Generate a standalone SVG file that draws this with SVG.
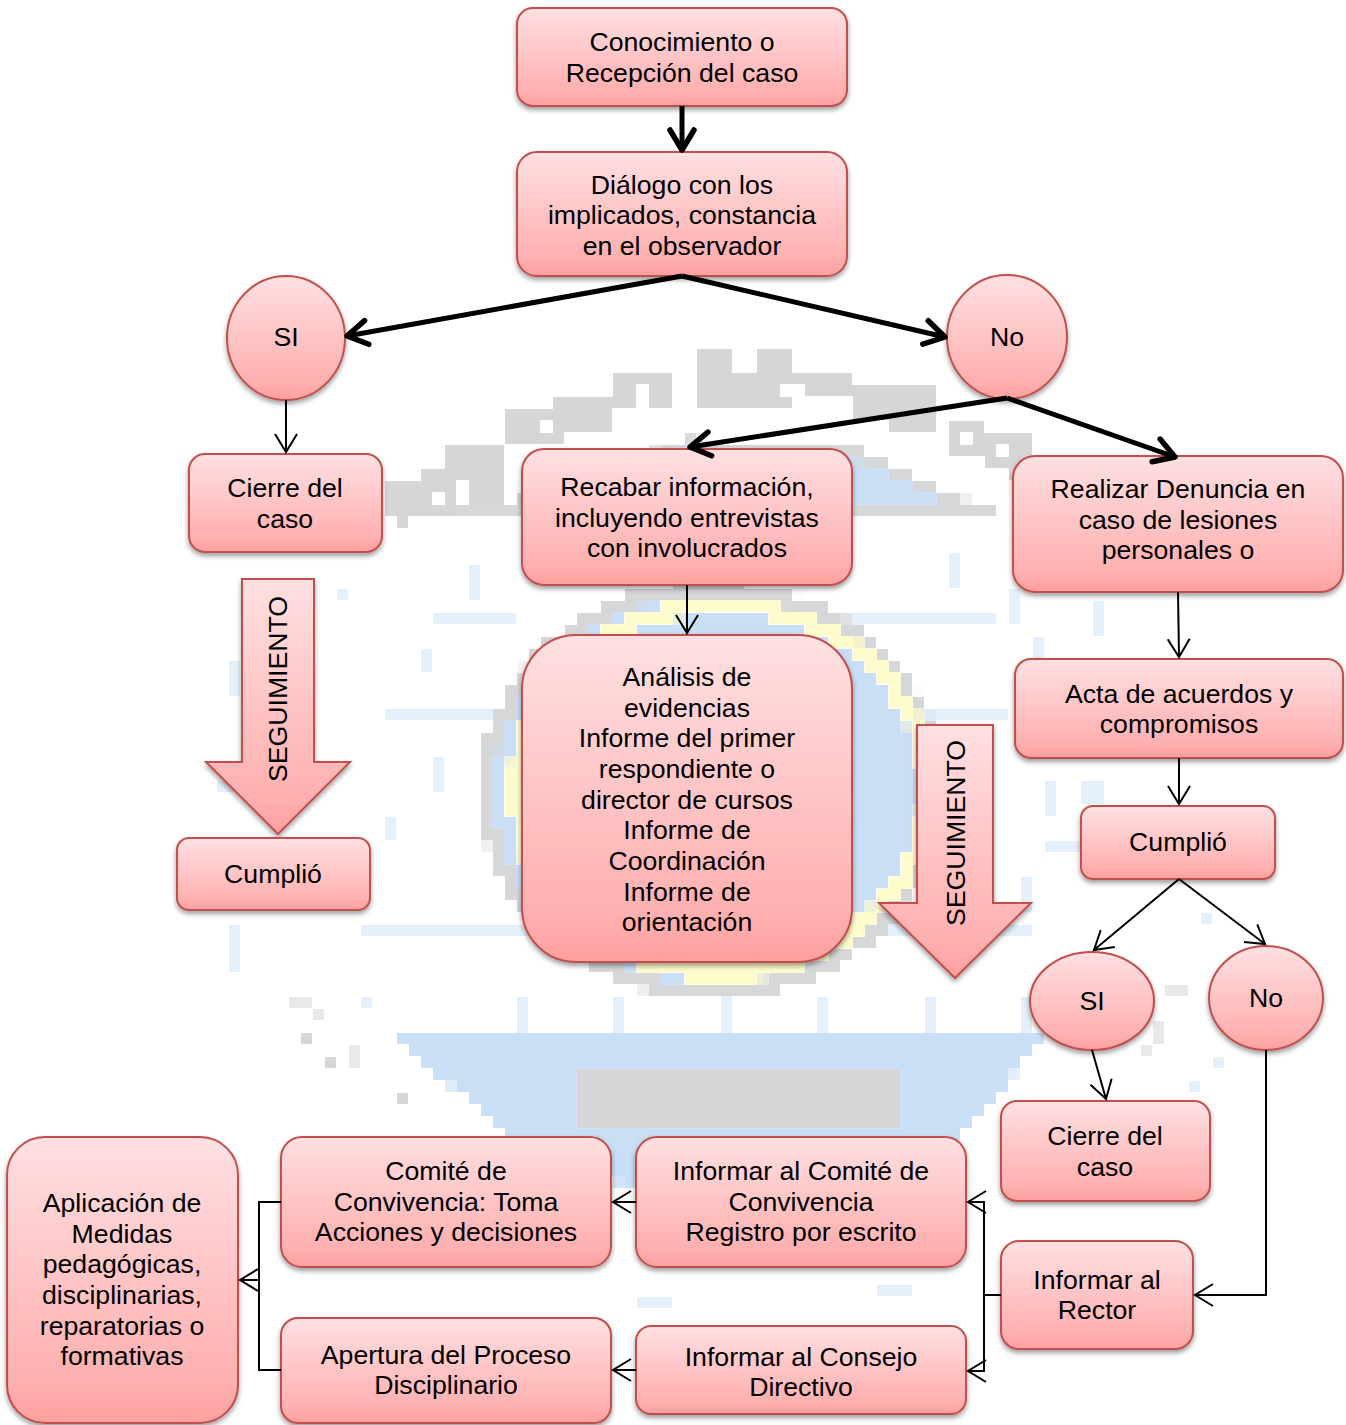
<svg xmlns="http://www.w3.org/2000/svg" width="1346" height="1425" viewBox="0 0 1346 1425">
<style>
.n{fill:url(#g);stroke:#c0504d;stroke-width:2;filter:url(#s)}
.t{font-family:"Liberation Sans",Arial,sans-serif;font-size:26.67px;fill:#000;text-anchor:middle}
.c1{fill:none;stroke:#000;stroke-width:2;marker-end:url(#h1)}
.c0{fill:none;stroke:#000;stroke-width:2}
.c5{fill:none;stroke:#000;stroke-width:5;marker-end:url(#h5)}
</style>
<defs>
<linearGradient id="g" x1="0" y1="0" x2="0" y2="1"><stop offset="0" stop-color="#ffe0e2"/><stop offset=".85" stop-color="#ffb0b0"/><stop offset="1" stop-color="#ff9f9f"/></linearGradient>
<filter id="s" x="-10%" y="-10%" width="120%" height="125%"><feDropShadow dx="0" dy="3" stdDeviation="2.5" flood-color="#000" flood-opacity=".38"/></filter>
<filter id="px" filterUnits="userSpaceOnUse" x="0" y="0" width="1346" height="1425" color-interpolation-filters="sRGB"><feFlood x="6" y="6" width="1" height="1" flood-color="#000"/><feComposite width="12" height="12"/><feTile result="a"/><feComposite in="SourceGraphic" in2="a" operator="in"/><feMorphology operator="dilate" radius="6"/></filter>
<marker id="h1" markerUnits="userSpaceOnUse" markerWidth="40" markerHeight="40" refX="30" refY="20" orient="auto" overflow="visible"><path d="M12,9 L30,20 L12,31" fill="none" stroke="#000" stroke-width="2"/></marker>
<marker id="h5" markerUnits="userSpaceOnUse" markerWidth="50" markerHeight="50" refX="34" refY="25" orient="auto" overflow="visible"><path d="M14,13 L34,25 L14,37" fill="none" stroke="#000" stroke-width="5.5" stroke-linecap="round" stroke-linejoin="round"/></marker>
</defs>
<g id="watermark" filter="url(#px)">
<rect width="1346" height="1425" fill="#fff"/>
<path d="M356,920H1030V932H356ZM380,708H520V720H380ZM430,612H520V624H430ZM850,612H1000V624H850ZM880,708H1010V720H880ZM1110,700H1240V712H1110ZM516,1000h12v32h-12ZM618,1000h12v32h-12ZM720,1000h12v32h-12ZM822,1000h12v32h-12ZM924,1000h12v32h-12ZM1020,1000h12v32h-12ZM384,816h12v24h-12ZM432,756h12v36h-12ZM468,564h12v36h-12ZM420,648h12v24h-12ZM948,552h12v36h-12ZM1008,588h12v36h-12ZM1032,636h12v36h-12ZM1044,780h12v36h-12ZM1020,876h12v36h-12ZM960,732h12v12h-12ZM1080,780h24v24h-24ZM1044,840h36v12h-36ZM1056,660h12v36h-12ZM1092,600h12v36h-12ZM640,1296h36v12h-36ZM876,1284h36v12h-36ZM1190,1184h12v12h-12ZM216,780h24v12h-24ZM228,924h12v48h-12ZM1200,912h12v12h-12ZM360,1000h12v12h-12ZM1240,1012h12v12h-12ZM1212,1056h12v12h-12ZM1188,1080h12v12h-12ZM336,588h12v12h-12ZM288,672h12v12h-12ZM228,660h12v36h-12Z" fill="#e4f0fc"/>
<ellipse cx="712" cy="790" rx="226" ry="202" fill="#c9dff5" stroke="#d5d7d9" stroke-width="16"/>
<ellipse cx="722" cy="790" rx="206" ry="184" fill="none" stroke="#fffccb" stroke-width="16"/>
<path d="M488,516 L690,444 L850,452 L990,516Z" fill="#c9dff5" stroke="#d5d7d9" stroke-width="12"/>
<path d="M393,510H990V522H393Z" fill="#d5d7d9"/>
<path d="M696,350h36v24h-36ZM696,374h96v30h-96ZM756,350h36v24h-36ZM792,372h60v24h-60ZM852,384h84v40h-84ZM888,408h48v24h-48ZM504,408h60v36h-60ZM552,396h60v36h-60ZM612,372h60v36h-60ZM444,444h60v36h-60ZM468,480h36v24h-36ZM420,468h36v50h-36ZM390,480h30v36h-30ZM396,516h12v12h-12ZM948,420h36v40h-36ZM984,432h48v36h-48ZM1008,468h24v12h-24ZM580,1070h320v62H580ZM306,1032h12v12h-12ZM330,1056h12v12h-12ZM396,1092h12v12h-12Z" fill="#d6d6d6"/>
<path d="M636,384h12v24h-12ZM432,492h12v12h-12ZM540,420h12v12h-12ZM960,432h12v12h-12ZM1000,444h12v12h-12ZM780,390h24v12h-24Z" fill="#fff"/>
<path d="M288,996h24v12h-24ZM312,1008h12v12h-12ZM348,1044h12v24h-12ZM1128,996h12v12h-12ZM1164,984h24v12h-24ZM1152,1020h12v24h-12ZM1140,1044h12v12h-12Z" fill="#e9e9e9"/>
<path d="M391,1032H1051L965,1132 900,1190H640L610,1180 500,1132Z" fill="#c9dff5"/>
<path d="M580,1070h320v62H580Z" fill="#d6d6d6"/>
</g>
<g id="n1"><rect class="n" x="517" y="8" width="330" height="98" rx="16"/><text class="t" x="682" y="51">Conocimiento o</text><text class="t" x="682" y="82">Recepción del caso</text></g>
<g id="n2"><rect class="n" x="517" y="152" width="330" height="124" rx="20"/><text class="t" x="682" y="194">Diálogo con los</text><text class="t" x="682" y="224">implicados, constancia</text><text class="t" x="682" y="255">en el observador</text></g>
<g id="n3"><ellipse class="n" cx="286" cy="338" rx="59" ry="62"/><text class="t" x="286" y="346">SI</text></g>
<g id="n4"><ellipse class="n" cx="1007" cy="337" rx="60" ry="62"/><text class="t" x="1007" y="346">No</text></g>
<g id="n5"><rect class="n" x="189" y="454" width="193" height="98" rx="16"/><text class="t" x="285" y="497">Cierre del</text><text class="t" x="285" y="528">caso</text></g>
<g id="n6"><rect class="n" x="522" y="449" width="330" height="136" rx="22"/><text class="t" x="687" y="496">Recabar información,</text><text class="t" x="687" y="527">incluyendo entrevistas</text><text class="t" x="687" y="557">con involucrados</text></g>
<g id="n7"><rect class="n" x="1013" y="456" width="330" height="136" rx="22"/><text class="t" x="1178" y="498">Realizar Denuncia en</text><text class="t" x="1178" y="529">caso de lesiones</text><text class="t" x="1178" y="559">personales o</text></g>
<g id="n8"><polygon class="n" points="242,579 314,579 314,762 350,762 278,834 206,762 242,762"/><text class="t" transform="translate(287,689) rotate(-90)">SEGUIMIENTO</text></g>
<g id="n9"><rect class="n" x="177" y="838" width="193" height="72" rx="12"/><text class="t" x="273" y="883">Cumplió</text></g>
<g id="n10"><rect class="n" x="522" y="635" width="330" height="327" rx="54"/><text class="t" x="687" y="686">Análisis de</text><text class="t" x="687" y="717">evidencias</text><text class="t" x="687" y="747">Informe del primer</text><text class="t" x="687" y="778">respondiente o</text><text class="t" x="687" y="809">director de cursos</text><text class="t" x="687" y="839">Informe de</text><text class="t" x="687" y="870">Coordinación</text><text class="t" x="687" y="901">Informe de</text><text class="t" x="687" y="931">orientación</text></g>
<g id="n11"><polygon class="n" points="917,725 993,725 993,903 1031,903 955,978 879,903 917,903"/><text class="t" transform="translate(965,833) rotate(-90)">SEGUIMIENTO</text></g>
<g id="n12"><rect class="n" x="1015" y="659" width="328" height="99" rx="16"/><text class="t" x="1179" y="703">Acta de acuerdos y</text><text class="t" x="1179" y="733">compromisos</text></g>
<g id="n13"><rect class="n" x="1081" y="806" width="194" height="73" rx="12"/><text class="t" x="1178" y="851">Cumplió</text></g>
<g id="n14"><ellipse class="n" cx="1092" cy="1001" rx="62" ry="49"/><text class="t" x="1092" y="1010">SI</text></g>
<g id="n15"><ellipse class="n" cx="1266" cy="998" rx="57" ry="52"/><text class="t" x="1266" y="1007">No</text></g>
<g id="n16"><rect class="n" x="1001" y="1101" width="209" height="100" rx="16"/><text class="t" x="1105" y="1145">Cierre del</text><text class="t" x="1105" y="1176">caso</text></g>
<g id="n17"><rect class="n" x="1001" y="1241" width="192" height="108" rx="18"/><text class="t" x="1097" y="1289">Informar al</text><text class="t" x="1097" y="1319">Rector</text></g>
<g id="n18"><rect class="n" x="636" y="1137" width="330" height="130" rx="21"/><text class="t" x="801" y="1180">Informar al Comité de</text><text class="t" x="801" y="1211">Convivencia</text><text class="t" x="801" y="1241">Registro por escrito</text></g>
<g id="n19"><rect class="n" x="281" y="1137" width="330" height="130" rx="21"/><text class="t" x="446" y="1180">Comité de</text><text class="t" x="446" y="1211">Convivencia: Toma</text><text class="t" x="446" y="1241">Acciones y decisiones</text></g>
<g id="n20"><rect class="n" x="281" y="1318" width="330" height="105" rx="17"/><text class="t" x="446" y="1364">Apertura del Proceso</text><text class="t" x="446" y="1394">Disciplinario</text></g>
<g id="n21"><rect class="n" x="636" y="1326" width="330" height="88" rx="15"/><text class="t" x="801" y="1366">Informar al Consejo</text><text class="t" x="801" y="1396">Directivo</text></g>
<g id="n22"><rect class="n" x="7" y="1137" width="231" height="286" rx="38"/><text class="t" x="122" y="1212">Aplicación de</text><text class="t" x="122" y="1243">Medidas</text><text class="t" x="122" y="1273">pedagógicas,</text><text class="t" x="122" y="1304">disciplinarias,</text><text class="t" x="122" y="1335">reparatorias o</text><text class="t" x="122" y="1365">formativas</text></g>
<g id="connectors">
<path class="c5" d="M682,106V150"/>
<path class="c5" d="M682,276L347,336"/>
<path class="c5" d="M682,276L945,337"/>
<path class="c5" d="M1007,398L690,447"/>
<path class="c5" d="M1007,398L1175,457"/>
<path class="c1" d="M286,400V452"/>
<path class="c1" d="M687,585V633"/>
<path class="c1" d="M1178,592L1179,657"/>
<path class="c1" d="M1179,758V804"/>
<path class="c1" d="M1179,879L1094,950"/>
<path class="c1" d="M1179,879L1265,944"/>
<path class="c1" d="M1092,1050L1106,1099"/>
<path class="c1" d="M1266,1050V1295H1195"/>
<path class="c0" d="M1001,1295H984"/>
<path class="c1" d="M984,1295V1202H968"/>
<path class="c1" d="M984,1295V1371H968"/>
<path class="c1" d="M636,1202H613"/>
<path class="c1" d="M636,1370H613"/>
<path class="c0" d="M281,1202H259V1370H281"/>
<path class="c1" d="M259,1280H240"/>
</g>
</svg>
